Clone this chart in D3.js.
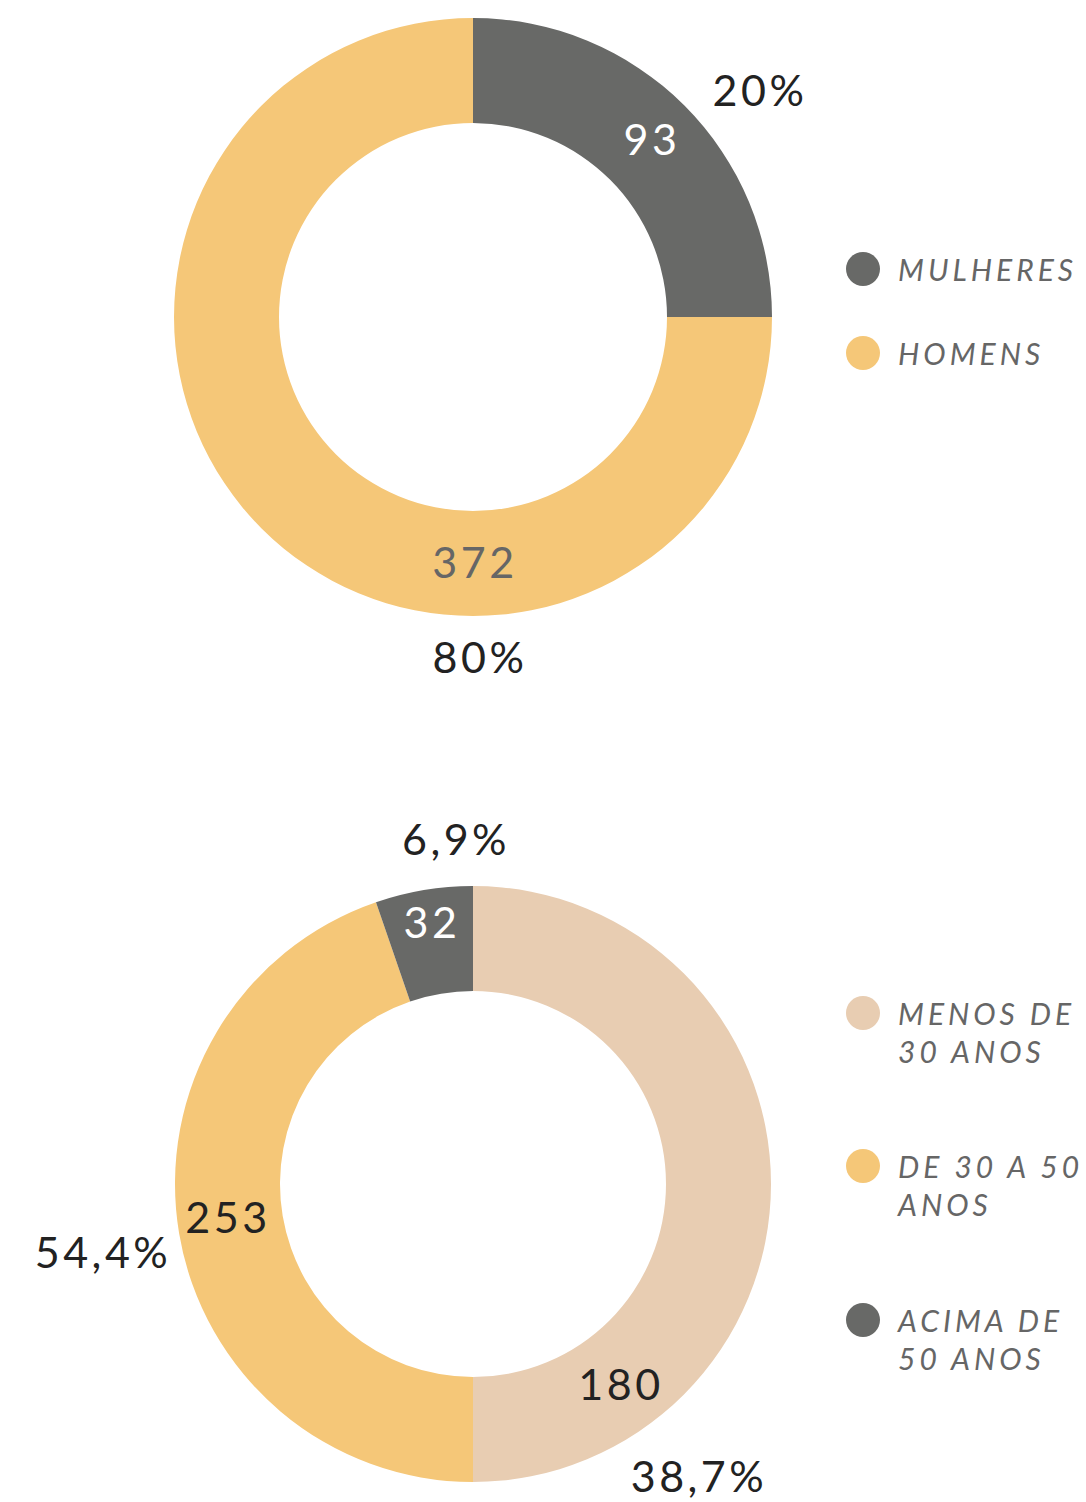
<!DOCTYPE html>
<html><head><meta charset="utf-8">
<script src="https://cdn.jsdelivr.net/npm/d3@7"></script>
<style>body{margin:0;background:#fff}svg{display:block}</style>
</head><body>
<script>
// ---- data ----
const genderCategories = ["MULHERES", "HOMENS"];
const genderCounts = [93, 372];
const genderPercents = ["20%", "80%"];
const genderArcShare = [90, 270];          // drawn arc span (degrees) as seen in picture

const ageCategories = [["MENOS DE", "30 ANOS"], ["DE 30 A 50", "ANOS"], ["ACIMA DE", "50 ANOS"]];
const ageCounts = [180, 253, 32];
const agePercents = ["38,7%", "54,4%", "6,9%"];
const ageArcShare = [180, 161, 19];       // drawn arc span (degrees) as seen in picture

// ---- style ----
const DARK = "#686967", YELLOW = "#F5C778", BEIGE = "#E8CDB2";
const FONT = "Lato, 'Open Sans', sans-serif";

const W = 1086, H = 1502;
const svg = d3.select("body").append("svg").attr("width", W).attr("height", H);

function donut(cfg) {
  const g = svg.append("g").attr("transform", `translate(${cfg.cx},${cfg.cy})`);
  const pie = d3.pie().sort(null).value(d => d.share);
  const arc = d3.arc().innerRadius(cfg.r0).outerRadius(cfg.r1);
  const data = cfg.share.map((s, i) => ({share: s, i}));
  const color = d3.scaleOrdinal().domain(d3.range(cfg.colors.length)).range(cfg.colors);
  g.selectAll("path").data(pie(data)).join("path")
    .attr("d", arc).attr("fill", d => color(d.data.i));

  const big = sel => sel.attr("text-anchor", "middle").attr("font-family", FONT)
    .attr("font-size", 43).attr("font-weight", 400).attr("letter-spacing", 3.5);
  // count labels
  cfg.countPos.forEach((p, i) => {
    g.append("text").attr("x", p[0] + 2).attr("y", p[1]).call(big)
      .attr("fill", cfg.countColors[i]).text(cfg.counts[i]);
  });
  // percent labels
  cfg.pctPos.forEach((p, i) => {
    g.append("text").attr("x", p[0] + 2).attr("y", p[1]).call(big)
      .attr("fill", "#222").text(cfg.pcts[i]);
  });

  // legend
  const lg = svg.append("g");
  cfg.legendY.forEach((y, i) => {
    lg.append("circle").attr("cx", 863).attr("cy", y).attr("r", 17).attr("fill", color(i));
    const lines = Array.isArray(cfg.cats[i]) ? cfg.cats[i] : [cfg.cats[i]];
    lines.forEach((t, k) => {
      lg.append("text").attr("x", 898).attr("y", y + 12 + k * 38)
        .attr("font-family", FONT).attr("font-style", "italic").attr("font-size", 30)
        .attr("letter-spacing", 4)
        .attr("fill", "#666").text(t);
    });
  });
}

donut({
  cx: 473, cy: 317, r0: 194, r1: 299,
  share: genderArcShare, colors: [DARK, YELLOW],
  counts: genderCounts, countColors: ["#fff", "#666"],
  countPos: [[177, -162], [0, 261]],
  pcts: genderPercents, pctPos: [[285, -211], [5, 356]],
  cats: genderCategories, legendY: [269, 353]
});

donut({
  cx: 473, cy: 1184, r0: 193, r1: 298,
  share: ageArcShare, colors: [BEIGE, YELLOW, DARK],
  counts: ageCounts, countColors: ["#222", "#222", "#fff"],
  countPos: [[146, 216], [-247, 49], [-43, -246]],
  pcts: agePercents, pctPos: [[224, 308], [-372, 84], [-19, -329]],
  cats: ageCategories, legendY: [1013, 1166, 1320]
});
</script>
</body></html>
